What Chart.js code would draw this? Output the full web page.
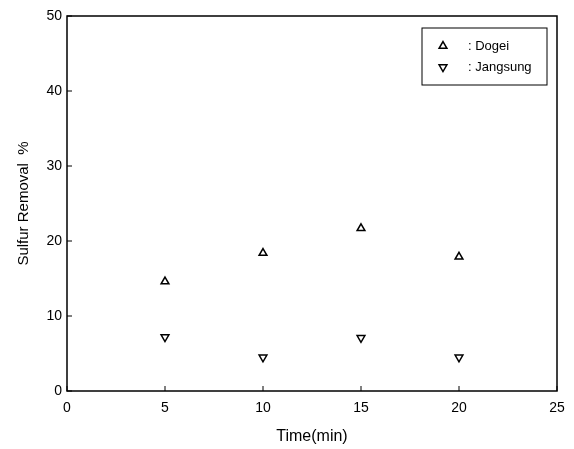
<!DOCTYPE html>
<html>
<head>
<meta charset="utf-8">
<script src="https://cdn.jsdelivr.net/npm/chart.js@4/dist/chart.umd.min.js"></script>
<style>
  html, body { margin: 0; padding: 0; background: #fff; }
  #wrap { width: 574px; height: 449px; }
</style>
</head>
<body>
<div id="wrap"><canvas id="sulfurChart" width="574" height="449"></canvas></div>
<script>
// Time (min) and sulfur removal (%)
const times = [5, 10, 15, 20];
const dogei = [14.6, 18.4, 21.7, 17.9];
const jangsung = [7.2, 4.5, 7.1, 4.5];
const xTicks = [0, 5, 10, 15, 20, 25];
const yTicks = [0, 10, 20, 30, 40, 50];

const FONT = "'Liberation Sans', Arial, sans-serif";

function toPoints(values) {
    return times.map((t, i) => ({ x: t, y: values[i] }));
}

// frame, inward ticks and boxed legend
const framePlugin = {
    id: "frame",
    afterDraw(chart) {
        const ctx = chart.ctx;
        const a = chart.chartArea;
        ctx.save();
        ctx.strokeStyle = "#000";
        ctx.lineWidth = 1.5;
        ctx.strokeRect(a.left, a.top, a.right - a.left, a.bottom - a.top);

        ctx.lineWidth = 1;
        ctx.beginPath();
        chart.scales.x.ticks.forEach((t) => {
            const px = chart.scales.x.getPixelForValue(t.value);
            ctx.moveTo(px, a.bottom);
            ctx.lineTo(px, a.bottom - 5);
        });
        chart.scales.y.ticks.forEach((t) => {
            const py = chart.scales.y.getPixelForValue(t.value);
            ctx.moveTo(a.left, py);
            ctx.lineTo(a.left + 5, py);
        });
        ctx.stroke();

        // legend box
        const boxW = 125, boxH = 57;
        const bx = a.right - 10 - boxW;
        const by = a.top + 12;
        ctx.strokeRect(bx, by, boxW, boxH);
        ctx.font = "13px " + FONT;
        ctx.textBaseline = "middle";
        chart.data.datasets.forEach((ds, i) => {
            const rowY = by + 18 + i * 21;
            ctx.fillStyle = "#fff";
            ctx.strokeStyle = "#000";
            ctx.lineWidth = 1.5;
            Chart.helpers.drawPoint(ctx, {
                pointStyle: ds.pointStyle,
                rotation: ds.rotation,
                radius: 4.5,
                borderWidth: 1.5
            }, bx + 21, rowY);
            ctx.fillStyle = "#000";
            ctx.fillText(": " + ds.label, bx + 46, rowY);
        });
        ctx.restore();
    }
};

const ctx = document.getElementById("sulfurChart").getContext("2d");
new Chart(ctx, {
    type: "scatter",
    data: {
        datasets: [
            {
                label: "Dogei",
                data: toPoints(dogei),
                pointStyle: "triangle",
                rotation: 0,
                pointRadius: 4.5,
                borderWidth: 1.5,
                borderColor: "#000",
                backgroundColor: "#fff"
            },
            {
                label: "Jangsung",
                data: toPoints(jangsung),
                pointStyle: "triangle",
                rotation: 180,
                pointRadius: 4.5,
                borderWidth: 1.5,
                borderColor: "#000",
                backgroundColor: "#fff"
            }
        ]
    },
    options: {
        responsive: false,
        animation: false,
        layout: { padding: { top: 16, right: 17, left: 0, bottom: 0 } },
        plugins: {
            legend: { display: false },
            tooltip: { enabled: false }
        },
        scales: {
            x: {
                type: "linear",
                min: xTicks[0],
                max: xTicks[xTicks.length - 1],
                afterBuildTicks: (s) => { s.ticks = xTicks.map((v) => ({ value: v })); },
                afterFit: (s) => { s.height = 58; },
                grid: { display: false, drawTicks: false },
                border: { display: false },
                ticks: { color: "#000", font: { family: FONT, size: 14 }, padding: 9 },
                title: {
                    display: true,
                    text: "Time(min)",
                    color: "#000",
                    font: { family: FONT, size: 16 },
                    padding: { top: 0, bottom: 3 }
                }
            },
            y: {
                type: "linear",
                min: yTicks[0],
                max: yTicks[yTicks.length - 1],
                afterBuildTicks: (s) => { s.ticks = yTicks.map((v) => ({ value: v })); },
                afterFit: (s) => { s.width = 67; },
                grid: { display: false, drawTicks: false },
                border: { display: false },
                ticks: { color: "#000", font: { family: FONT, size: 14 }, padding: 5 },
                title: {
                    display: true,
                    text: "Sulfur Removal  %",
                    color: "#000",
                    font: { family: FONT, size: 15 },
                    padding: { top: 15, bottom: 0 }
                }
            }
        }
    },
    plugins: [framePlugin]
});
</script>
</body>
</html>
